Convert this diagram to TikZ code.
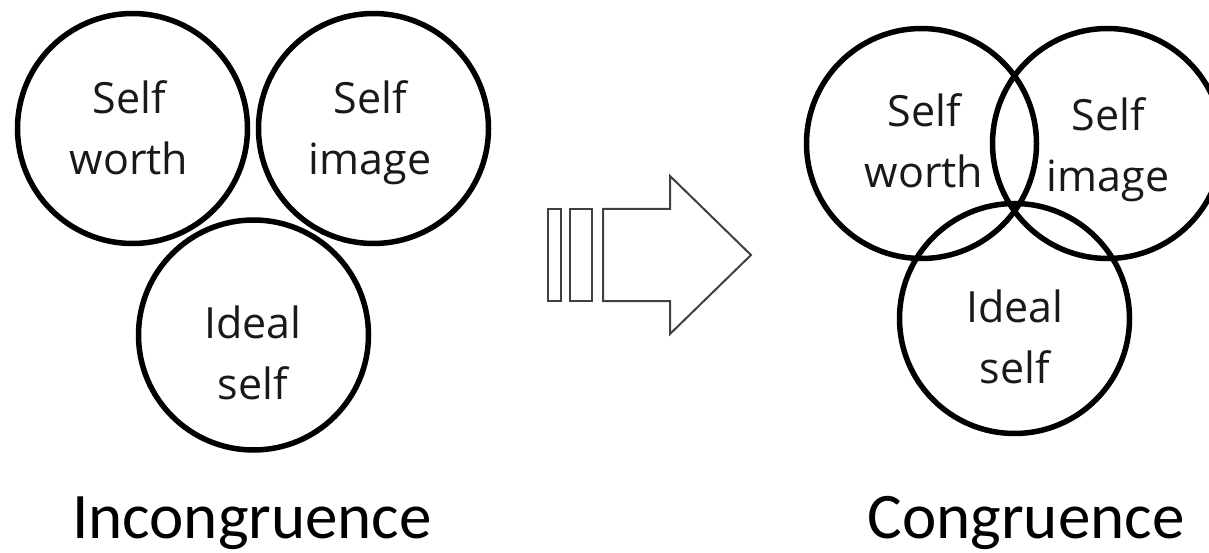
\documentclass[tikz,border=0pt]{standalone}
\usepackage{fontspec}
\setmainfont{Open Sans}
\newfontfamily\capfont{Carlito}

\tikzset{
  ring/.style={circle, draw=black, line width=5.5pt, minimum size=230pt, inner sep=0pt},
  ringtext/.style={font=\fontsize{43}{61}\selectfont, align=center, anchor=base, text=black!90},
  caption/.style={font=\capfont\fontsize{65}{70}\selectfont, anchor=base, text=black},
  bar/.style={draw=black!75, line width=2pt, line join=miter}
}

\begin{document}
\begin{tikzpicture}[x=1pt,y=-1pt]
\useasboundingbox (0,0) rectangle (1209,553);
\clip (0,0) rectangle (1209,553);
% incongruence: three circles just touching
\node[ring] (worthL) at (132.5,128.5) {};
\node[ring] (imageL) at (373.5,128.5) {};
\node[ring] (idealL) at (253.5,335) {};
\node[ringtext] (worthLtext) at (129,175) {Self\\worth};
\node[ringtext] (imageLtext) at (370,175) {Self\\image};
\node[ringtext] (idealLtext) at (253,399) {Ideal\\self};
\node[caption] (incong) at (252,538) {Incongruence};
% the arrow between
\draw[bar] (548,209) rectangle (561,301);
\draw[bar] (570,209) rectangle (592,301);
\draw[bar] (603,209) -- (670,209) -- (670,176) -- (751,255) -- (670,334) -- (670,301) -- (603,301) -- cycle;
% congruence: overlapping circles
\node[ring] (worthR) at (921.5,143.5) {};
\node[ring] (imageR) at (1107.5,143.5) {};
\node[ring] (idealR) at (1014.5,318.5) {};
\node[ringtext] (worthRtext) at (924,188) {Self\\worth};
\node[ringtext] (imageRtext) at (1108,192) {Self\\image};
\node[ringtext] (idealRtext) at (1015,383) {Ideal\\self};
\node[caption] (cong) at (1026,538) {Congruence};
\end{tikzpicture}
\end{document}
